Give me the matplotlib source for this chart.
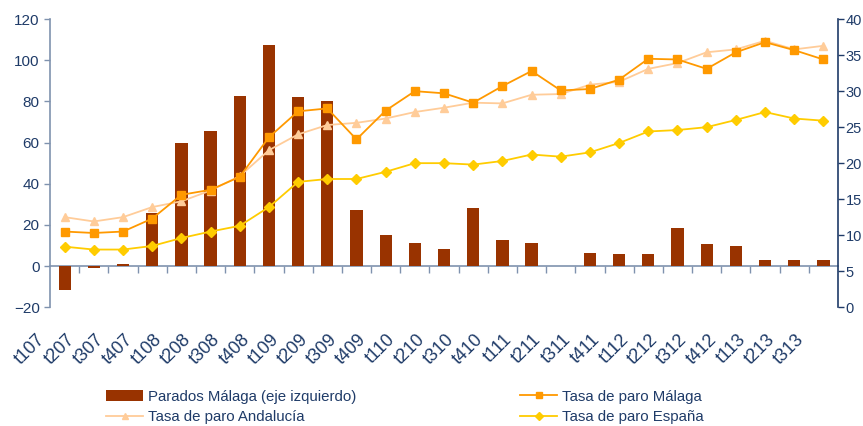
import numpy as np
import matplotlib
matplotlib.use('Agg')
import matplotlib.pyplot as plt
import matplotlib.transforms as mtransforms

plt.rcParams['font.family'] = ['Liberation Sans', 'DejaVu Sans']

# --------------------- datos ---------------------
trimestres = ['t107', 't207', 't307', 't407', 't108', 't208', 't308', 't408',
              't109', 't209', 't309', 't409', 't110', 't210', 't310', 't410',
              't111', 't211', 't311', 't411', 't112', 't212', 't312', 't412',
              't113', 't213', 't313']

parados_malaga = [-11.5, -1, 0.8, 26, 60, 65.8, 82.8, 107.5, 82.3, 80.3, 27, 15.3,
                  11.4, 8.3, 28.4, 12.7, 11, 0, 6.5, 5.6, 6, 18.6, 10.5, 9.7,
                  3, 3, 3]

tasa_malaga = [10.5, 10.3, 10.5, 12.3, 15.6, 16.3, 18.1, 23.6, 27.2, 27.6, 23.3,
               27.3, 30.0, 29.7, 28.4, 30.7, 32.8, 30.1, 30.3, 31.6, 34.5, 34.4,
               33.1, 35.4, 36.8, 35.7, 34.4]

tasa_andalucia = [12.5, 11.9, 12.5, 13.9, 14.7, 16.2, 18.2, 21.8, 24.0, 25.3,
                  25.6, 26.2, 27.1, 27.7, 28.4, 28.3, 29.5, 29.6, 30.9, 31.3,
                  33.1, 33.9, 35.4, 35.8, 37.0, 35.8, 36.3]

tasa_espana = [8.4, 8.0, 8.0, 8.5, 9.6, 10.5, 11.3, 13.9, 17.4, 17.8, 17.8, 18.8,
               20.0, 20.0, 19.8, 20.3, 21.2, 20.9, 21.5, 22.8, 24.4, 24.6, 25.0,
               26.0, 27.1, 26.2, 25.9]

# --------------------- estilo ---------------------
navy = '#1F3B68'
gris_azul = '#7F92AE'
c_bar = '#993300'
c_mal = '#FF9900'
c_and = '#FFCC99'
c_esp = '#FFCC00'

x = np.arange(len(trimestres))

fig = plt.figure(figsize=(8.63, 4.26), dpi=100)
ax = fig.add_axes([0.058, 0.279, 0.913, 0.676])
ax2 = ax.twinx()

bars = ax.bar(x, parados_malaga, width=0.42, color=c_bar, zorder=2,
              label='Parados Málaga (eje izquierdo)')

l_and, = ax2.plot(x, tasa_andalucia, color=c_and, marker='^', markersize=6,
                  linewidth=1.3, label='Tasa de paro Andalucía', zorder=3)
l_mal, = ax2.plot(x, tasa_malaga, color=c_mal, marker='s', markersize=5.5,
                  linewidth=1.3, label='Tasa de paro Málaga', zorder=4)
l_esp, = ax2.plot(x, tasa_espana, color=c_esp, marker='D', markersize=5,
                  linewidth=1.3, label='Tasa de paro España', zorder=3)

ax.set_xlim(-0.5, len(trimestres) - 0.5)
ax.set_ylim(-20, 120)
ax.set_yticks(np.arange(-20, 121, 20))
ax2.set_ylim(0, 40)
ax2.set_yticks(np.arange(0, 41, 5))

# ejes
for s in ['top', 'bottom', 'right']:
    ax.spines[s].set_visible(False)
for s in ['top', 'bottom', 'left']:
    ax2.spines[s].set_visible(False)
ax.spines['left'].set_color(gris_azul)
ax.spines['left'].set_linewidth(1.2)
ax2.spines['right'].set_color(navy)
ax2.spines['right'].set_linewidth(1.2)

ax.tick_params(axis='y', colors=gris_azul, labelcolor=navy, labelsize=11,
               length=4, width=1, direction='out')
ax2.tick_params(axis='y', colors=navy, labelcolor=navy, labelsize=10.5,
                length=4, width=1, direction='out', pad=1.5)

# etiquetas de categoria
ax.set_xticks(x)
ax.set_xticklabels(trimestres, rotation=45, ha='right', va='top',
                   fontsize=13, color=navy)
ax.tick_params(axis='x', length=0, pad=17)
offset = mtransforms.ScaledTranslation(-0.16, 0, fig.dpi_scale_trans)
for lab in ax.get_xticklabels():
    lab.set_transform(lab.get_transform() + offset)

# eje de categorias en y=0
eje0 = ax.secondary_xaxis(20 / 140)
eje0.spines['bottom'].set_color(gris_azul)
eje0.spines['bottom'].set_linewidth(1.2)
eje0.set_xticks(x[:-1] + 0.5)
eje0.set_xticklabels([])
eje0.tick_params(axis='x', colors=gris_azul, length=5, width=1, direction='out')

# leyenda
fig.legend([bars, l_and, l_mal, l_esp],
           ['Parados Málaga (eje izquierdo)', 'Tasa de paro Andalucía',
            'Tasa de paro Málaga', 'Tasa de paro España'],
           ncol=2, loc='upper left', bbox_to_anchor=(0.114, 0.103),
           frameon=False, fontsize=10.8, labelcolor=navy,
           handlelength=2.5, handletextpad=0.3, columnspacing=10.9,
           labelspacing=0.42, borderpad=0, markerscale=0.8)

fig.savefig('out.png', dpi=100)
